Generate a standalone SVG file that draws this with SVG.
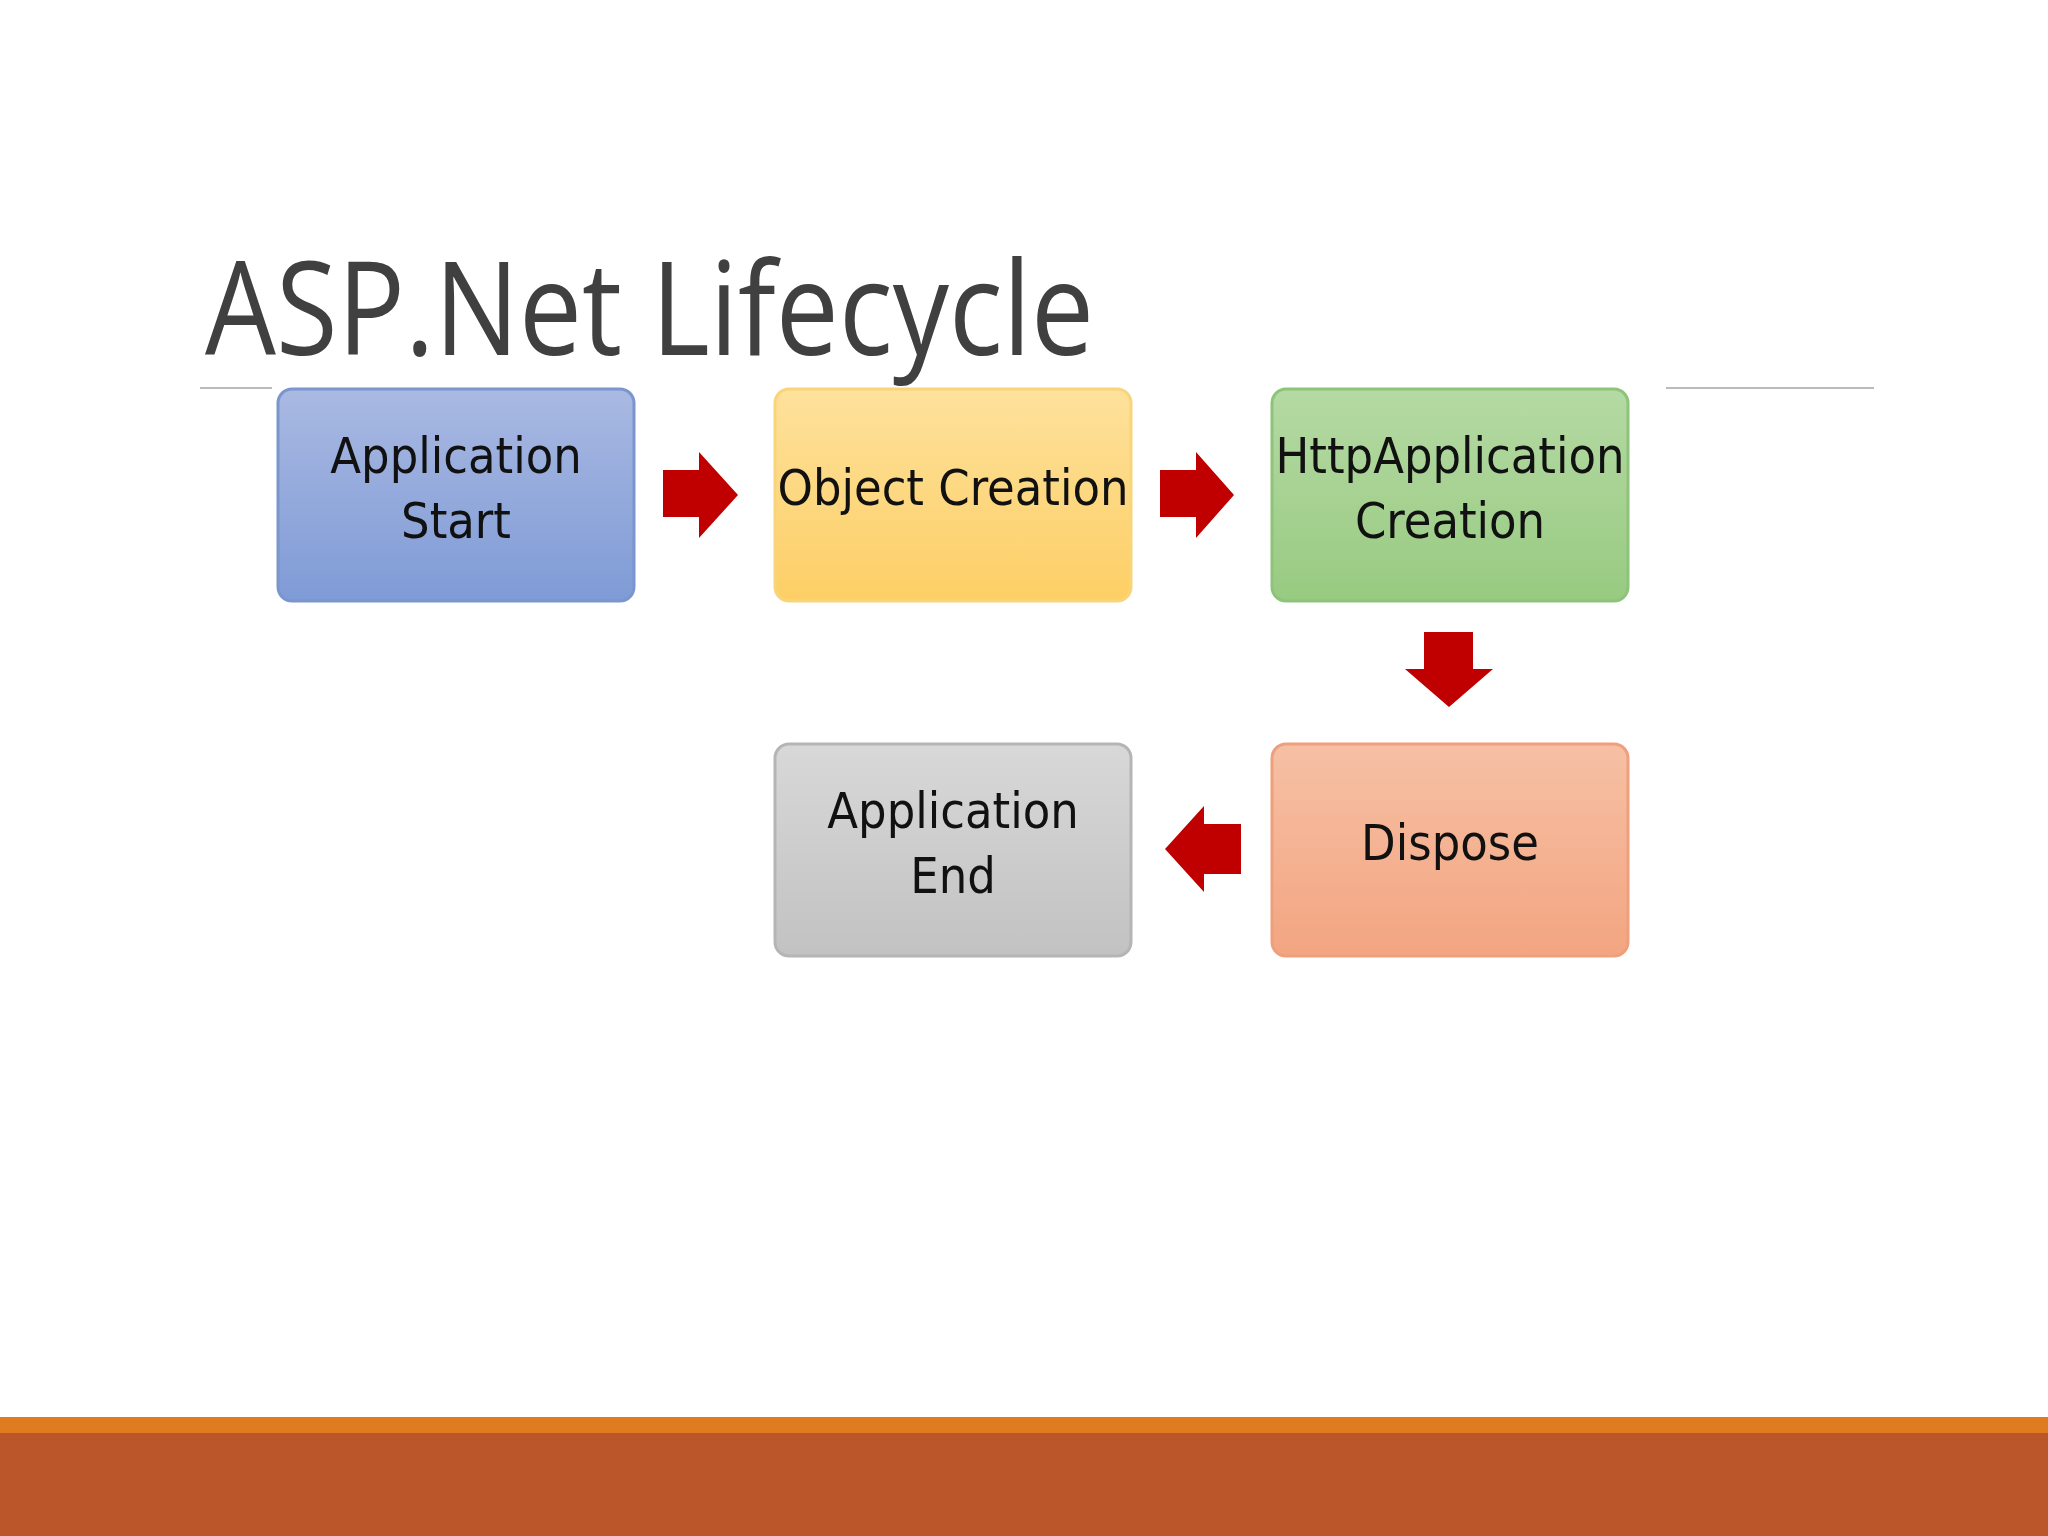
<svg xmlns="http://www.w3.org/2000/svg" width="2048" height="1536" viewBox="0 0 2048 1536">
<style>
.t{font-family:"Liberation Sans Narrow","DejaVu Sans Condensed","Liberation Sans",sans-serif;font-size:50px;fill:#111;text-anchor:middle}
.box{stroke-width:3}
.arr{fill:#C00000}
</style>
<defs>
<linearGradient id="gb" x1="0" y1="0" x2="0" y2="1"><stop offset="0" stop-color="#A9B9E2"/><stop offset="1" stop-color="#7F9BD6"/></linearGradient>
<linearGradient id="gy" x1="0" y1="0" x2="0" y2="1"><stop offset="0" stop-color="#FEE19C"/><stop offset="1" stop-color="#FDCF65"/></linearGradient>
<linearGradient id="gg" x1="0" y1="0" x2="0" y2="1"><stop offset="0" stop-color="#B5DAA4"/><stop offset="1" stop-color="#98CA81"/></linearGradient>
<linearGradient id="go" x1="0" y1="0" x2="0" y2="1"><stop offset="0" stop-color="#F6C0A4"/><stop offset="1" stop-color="#F3A581"/></linearGradient>
<linearGradient id="gx" x1="0" y1="0" x2="0" y2="1"><stop offset="0" stop-color="#D8D8D8"/><stop offset="1" stop-color="#C2C2C2"/></linearGradient>
</defs>
<rect width="2048" height="1536" fill="#fff"/>
<text x="205" y="355" font-family="Open Sans,Liberation Sans,sans-serif" font-size="130" fill="#404040" textLength="889" lengthAdjust="spacingAndGlyphs">ASP.Net Lifecycle</text>
<line x1="200" y1="388" x2="272" y2="388" stroke="#bbb" stroke-width="2"/>
<line x1="1666" y1="388" x2="1874" y2="388" stroke="#bbb" stroke-width="2"/>
<g id="n1"><rect class="box" x="278" y="389" width="356" height="212" rx="14" fill="url(#gb)" stroke="#7B95CE"/><text class="t" x="456" y="473">Application</text><text class="t" x="456" y="538">Start</text></g>
<g id="n2"><rect class="box" x="775" y="389" width="356" height="212" rx="14" fill="url(#gy)" stroke="#F8D57A"/><text class="t" x="953" y="505">Object Creation</text></g>
<g id="n3"><rect class="box" x="1272" y="389" width="356" height="212" rx="14" fill="url(#gg)" stroke="#8DC47A"/><text class="t" x="1450" y="473">HttpApplication</text><text class="t" x="1450" y="538">Creation</text></g>
<g id="n4"><rect class="box" x="1272" y="744" width="356" height="212" rx="14" fill="url(#go)" stroke="#EF9F7C"/><text class="t" x="1450" y="860">Dispose</text></g>
<g id="n5"><rect class="box" x="775" y="744" width="356" height="212" rx="14" fill="url(#gx)" stroke="#B5B5B5"/><text class="t" x="953" y="828">Application</text><text class="t" x="953" y="893">End</text></g>
<g id="connectors">
<polygon class="arr" points="663,470 699,470 699,452 738,495 699,538 699,517 663,517"/>
<polygon class="arr" points="1160,470 1196,470 1196,452 1234,495 1196,538 1196,517 1160,517"/>
<polygon class="arr" points="1424,632 1473,632 1473,669 1493,669 1449,707 1405,669 1424,669"/>
<polygon class="arr" points="1241,824 1204,824 1204,806 1165,849 1204,892 1204,874 1241,874"/>
</g>
<rect x="0" y="1417" width="2048" height="16" fill="#E07B20"/>
<rect x="0" y="1433" width="2048" height="103" fill="#BB562B"/>
</svg>
